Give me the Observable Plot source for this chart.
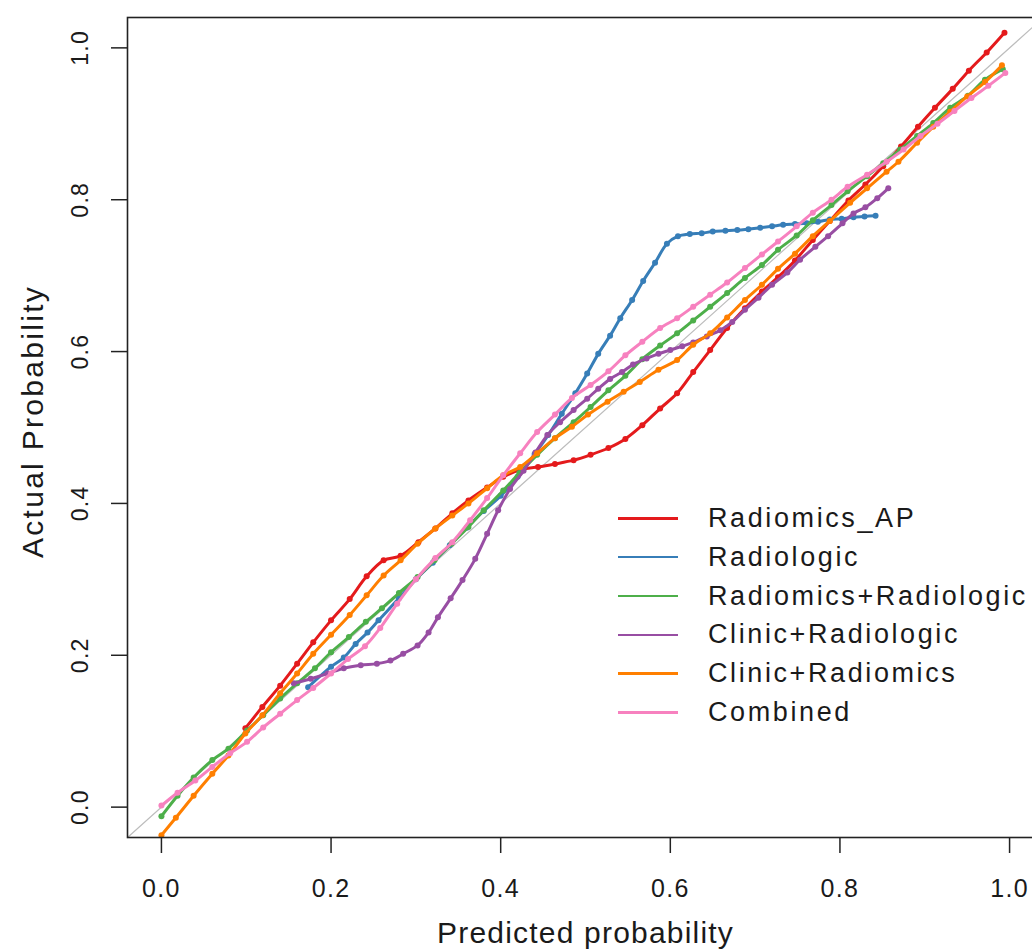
<!DOCTYPE html>
<html>
<head>
<meta charset="utf-8">
<script src="https://cdn.jsdelivr.net/npm/d3@7"></script>
<script src="https://cdn.jsdelivr.net/npm/@observablehq/plot@0.6"></script>
<style>
  html, body { margin: 0; padding: 0; background: #fff; overflow: hidden; }
  #wrap { position: relative; width: 1032px; height: 951px; overflow: hidden; }
  #chart svg { max-width: none !important; }
  #legend { position: absolute; left: 618px; top: 499px; font-family: "Liberation Sans", Arial, sans-serif;
            font-size: 27px; letter-spacing: 2.6px; color: #1a1a1a; }
  .row { height: 38.8px; line-height: 38.8px; display: flex; align-items: center; white-space: nowrap; }
  .sw { width: 60px; height: 2.5px; margin-right: 30px; }
</style>
</head>
<body>
<div id="wrap"><div id="chart"></div><div id="legend"></div></div>
<script>
// ---- data ----
const seriesNames = ["Radiomics_AP", "Radiologic", "Radiomics+Radiologic", "Clinic+Radiologic", "Clinic+Radiomics", "Combined"];
const seriesColors = ["#E41A1C", "#377EB8", "#4DAF4A", "#984EA3", "#FF7F00", "#F781BF"];

const radiomicsAP = [[.099,.104],[.119,.132],[.14,.16],[.16,.189],[.179,.217],[.2,.246],[.222,.274],[.242,.304],[.262,.325],[.282,.331],[.303,.349],[.323,.367],[.343,.387],[.362,.404],[.384,.421],[.403,.435],[.425,.445],[.444,.448],[.464,.452],[.486,.457],[.506,.464],[.527,.473],[.547,.485],[.567,.503],[.588,.525],[.608,.545],[.627,.573],[.647,.602],[.667,.631],[.688,.657],[.708,.679],[.727,.698],[.747,.72],[.768,.747],[.788,.772],[.81,.799],[.83,.82],[.851,.844],[.872,.87],[.892,.896],[.912,.921],[.933,.946],[.952,.97],[.973,.994],[.994,1.02]];
const radiologic = [[.173,.158],[.2,.185],[.215,.197],[.229,.215],[.243,.23],[.256,.246],[.28,.275],[.3,.3],[.32,.322],[.34,.345],[.36,.368],[.38,.39],[.4,.41],[.42,.435],[.44,.465],[.456,.49],[.472,.518],[.488,.545],[.502,.571],[.515,.597],[.529,.621],[.541,.644],[.555,.668],[.568,.693],[.582,.717],[.596,.742],[.609,.752],[.623,.755],[.637,.756],[.65,.758],[.665,.759],[.679,.76],[.692,.761],[.706,.763],[.72,.765],[.733,.767],[.747,.768],[.761,.769],[.774,.771],[.788,.774],[.802,.775],[.816,.777],[.829,.778],[.842,.779]];
const radiomicsRadiologic = [[0,-.012],[.019,.015],[.038,.039],[.06,.062],[.079,.077],[.101,.101],[.12,.121],[.14,.143],[.16,.163],[.181,.183],[.2,.204],[.221,.224],[.241,.244],[.26,.262],[.28,.282],[.302,.303],[.322,.325],[.342,.347],[.362,.369],[.38,.391],[.403,.417],[.422,.44],[.443,.464],[.464,.486],[.486,.507],[.506,.527],[.527,.549],[.547,.568],[.567,.59],[.588,.608],[.608,.624],[.627,.641],[.647,.659],[.667,.677],[.688,.697],[.708,.714],[.727,.734],[.749,.753],[.768,.773],[.79,.793],[.809,.811],[.832,.831],[.851,.848],[.871,.866],[.891,.884],[.91,.901],[.93,.921],[.951,.937],[.971,.958],[.992,.972]];
const clinicRadiologic = [[.156,.163],[.176,.169],[.196,.176],[.215,.183],[.235,.187],[.254,.189],[.27,.193],[.285,.202],[.302,.213],[.315,.23],[.326,.25],[.341,.275],[.355,.299],[.37,.327],[.384,.36],[.397,.391],[.411,.419],[.427,.443],[.441,.467],[.455,.49],[.47,.507],[.486,.523],[.502,.538],[.515,.551],[.529,.564],[.543,.573],[.556,.583],[.572,.591],[.586,.597],[.6,.602],[.614,.607],[.627,.612],[.643,.62],[.659,.628],[.673,.639],[.688,.655],[.704,.671],[.72,.688],[.738,.704],[.753,.721],[.771,.738],[.786,.752],[.803,.769],[.816,.782],[.83,.79],[.844,.802],[.857,.815]];
const clinicRadiomics = [[0,-.037],[.017,-.014],[.038,.015],[.06,.044],[.079,.068],[.099,.097],[.119,.121],[.14,.15],[.16,.176],[.179,.202],[.2,.227],[.222,.253],[.242,.279],[.262,.305],[.282,.325],[.302,.347],[.323,.367],[.343,.384],[.362,.4],[.384,.42],[.403,.437],[.423,.448],[.443,.466],[.464,.486],[.484,.501],[.503,.517],[.526,.534],[.545,.547],[.564,.56],[.586,.576],[.608,.589],[.627,.609],[.647,.624],[.667,.645],[.688,.668],[.708,.688],[.727,.709],[.747,.729],[.768,.752],[.788,.772],[.812,.796],[.832,.815],[.855,.837],[.869,.85],[.891,.875],[.91,.896],[.93,.916],[.95,.936],[.971,.955],[.991,.977]];
const combined = [[0,.002],[.019,.019],[.04,.035],[.06,.053],[.081,.071],[.101,.086],[.12,.105],[.14,.123],[.16,.141],[.179,.157],[.2,.176],[.22,.195],[.24,.212],[.258,.236],[.278,.268],[.3,.3],[.323,.328],[.343,.349],[.364,.378],[.384,.407],[.403,.437],[.423,.466],[.443,.494],[.464,.517],[.484,.539],[.506,.556],[.527,.574],[.547,.595],[.567,.613],[.588,.631],[.608,.644],[.627,.659],[.647,.675],[.667,.691],[.688,.71],[.708,.728],[.727,.745],[.749,.765],[.768,.783],[.79,.8],[.809,.817],[.832,.833],[.855,.85],[.875,.866],[.895,.884],[.915,.9],[.935,.917],[.955,.934],[.975,.95],[.995,.967]];

const seriesPoints = [radiomicsAP, radiologic, radiomicsRadiologic, clinicRadiologic, clinicRadiomics, combined];
const xTicks = [0, 0.2, 0.4, 0.6, 0.8, 1.0];
const yTicks = [0, 0.2, 0.4, 0.6, 0.8, 1.0];
const axisDomain = [-0.04, 1.04];
const xTitle = "Predicted probability";
const yTitle = "Actual Probability";

// ---- chart ----
const fmt = d3.format(".1f");
const textColor = "#1a1a1a";
const marks = [];
marks.push(Plot.line(axisDomain.map(v => ({x: v, y: v})), {x: "x", y: "y", stroke: "#bdbdbd", strokeWidth: 1.2}));
seriesPoints.forEach((pts, i) => {
  const rows = pts.map(([x, y]) => ({x, y, name: seriesNames[i]}));
  marks.push(Plot.line(rows, {x: "x", y: "y", stroke: seriesColors[i], strokeWidth: 3, curve: "catmull-rom"}));
  marks.push(Plot.dot(rows, {x: "x", y: "y", r: 3, fill: seriesColors[i], stroke: "none"}));
});
marks.push(Plot.frame({stroke: "#222", strokeWidth: 1.6}));
marks.push(Plot.axisX({ticks: xTicks, tickSize: 16, tickPadding: 26, tickFormat: fmt, fontSize: 25, label: null, stroke: "#222", strokeWidth: 1.5, fill: textColor}));
marks.push(Plot.axisY({ticks: yTicks, tickSize: 16, tickFormat: () => "", label: null, stroke: "#222", strokeWidth: 1.5}));
marks.push(Plot.text(yTicks, {y: d => d, text: d => fmt(d), frameAnchor: "left", dx: -47, rotate: -90, fontSize: 23, textAnchor: "middle", lineAnchor: "middle", fill: textColor}));
marks.push(Plot.text([xTitle], {text: d => d, frameAnchor: "bottom", dy: 96, fontSize: 30, textAnchor: "middle", lineAnchor: "middle", fill: textColor}));
marks.push(Plot.text([yTitle], {text: d => d, frameAnchor: "left", dx: -94, dy: -6, rotate: -90, fontSize: 30, textAnchor: "middle", lineAnchor: "middle", fill: textColor}));

const chart = Plot.plot({
  width: 1060,
  height: 951,
  marginLeft: 127,
  marginRight: 17,
  marginTop: 17,
  marginBottom: 114,
  x: {domain: axisDomain},
  y: {domain: axisDomain},
  style: {fontFamily: "'Liberation Sans', Arial, sans-serif", background: "white", overflow: "visible", maxWidth: "none"},
  marks
});
chart.style.maxWidth = "none";
chart.querySelectorAll("text").forEach(t => {
  const fs = parseFloat(t.getAttribute("font-size") || t.parentNode.getAttribute("font-size") || 0);
  t.style.letterSpacing = "1.3px";
  if (t.textContent === yTitle) t.style.letterSpacing = "2.3px";
  if (t.textContent === xTitle) t.style.letterSpacing = "1.2px";
});
document.getElementById("chart").appendChild(chart);

// legend
const legend = document.getElementById("legend");
seriesNames.forEach((n, i) => {
  const row = document.createElement("div");
  row.className = "row";
  const sw = document.createElement("div");
  sw.className = "sw";
  sw.style.background = seriesColors[i];
  const lab = document.createElement("span");
  lab.textContent = n;
  row.appendChild(sw); row.appendChild(lab);
  legend.appendChild(row);
});
</script>
</body>
</html>
